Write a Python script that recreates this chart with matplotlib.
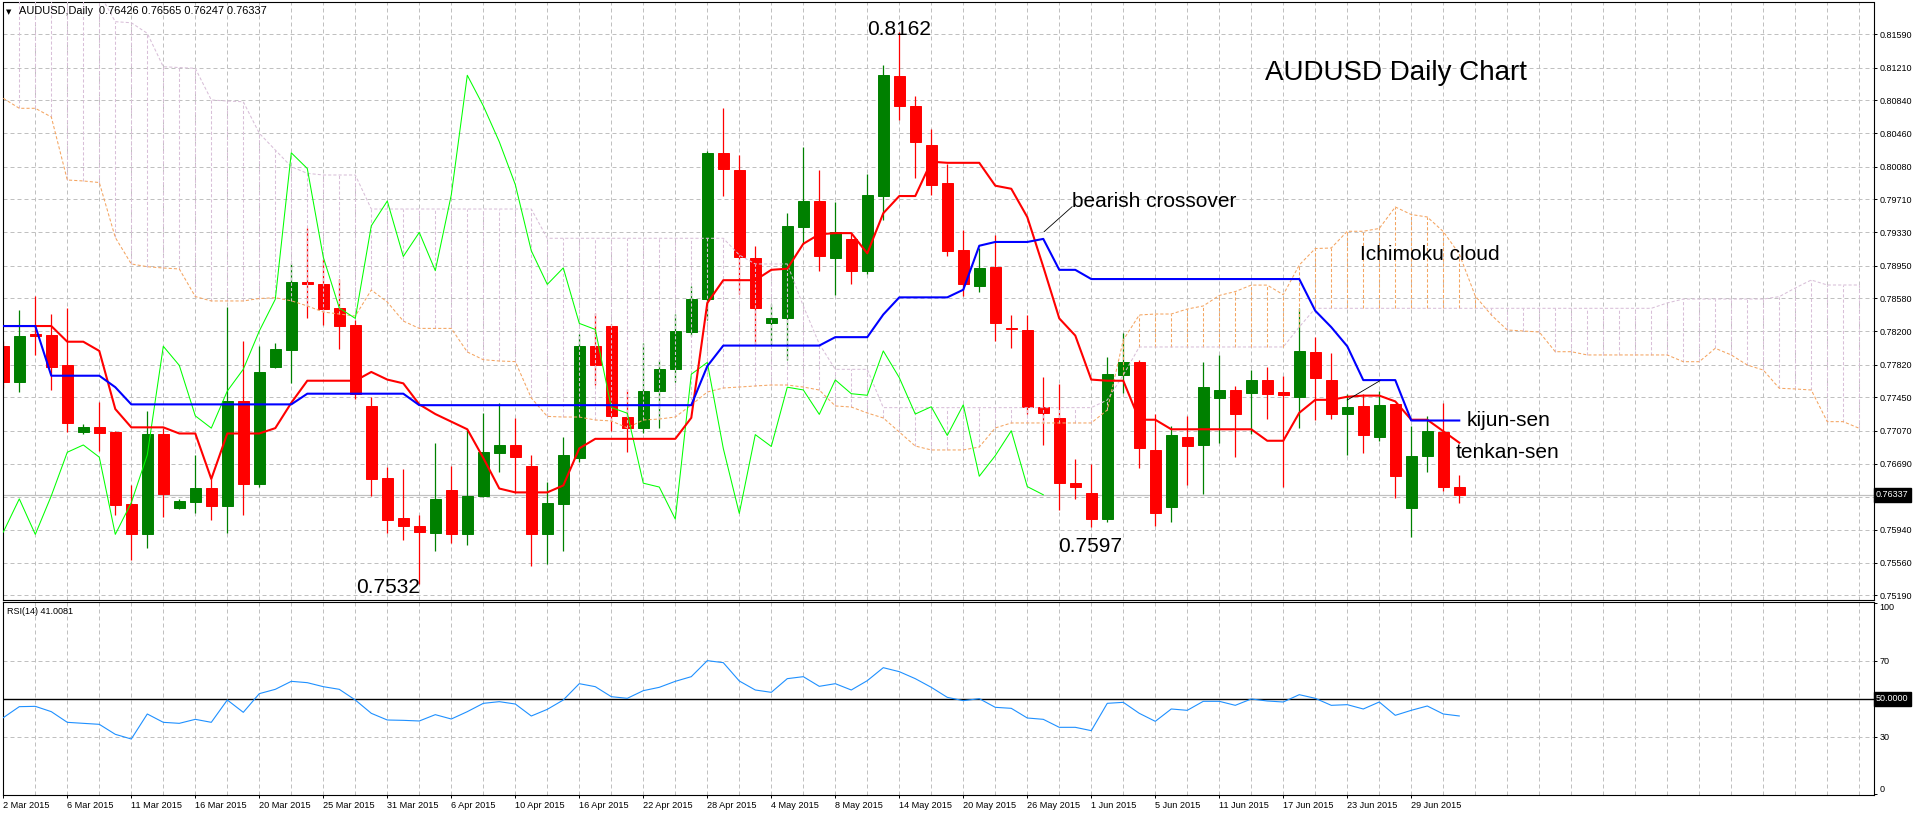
import numpy as np
import matplotlib
matplotlib.use("Agg")
import matplotlib.pyplot as plt
from matplotlib.transforms import blended_transform_factory

plt.rcParams["font.family"] = ["Liberation Sans", "DejaVu Sans"]

# ---------------------------------------------------------------- data
date_labels = ["2 Mar 2015", "6 Mar 2015", "11 Mar 2015", "16 Mar 2015", "20 Mar 2015",
               "25 Mar 2015", "31 Mar 2015", "6 Apr 2015", "10 Apr 2015", "16 Apr 2015",
               "22 Apr 2015", "28 Apr 2015", "4 May 2015", "8 May 2015", "14 May 2015",
               "20 May 2015", "26 May 2015", "1 Jun 2015", "5 Jun 2015", "11 Jun 2015",
               "17 Jun 2015", "23 Jun 2015", "29 Jun 2015"]

opens = [0.78031, 0.77629, 0.78170, 0.78162, 0.77813, 0.77058, 0.77110, 0.77049, 0.76233, 0.75885,
         0.77027, 0.76181, 0.76255, 0.76417, 0.76212, 0.77411, 0.76465, 0.77795, 0.77987, 0.78759,
         0.78742, 0.78467, 0.78275, 0.77346, 0.76526, 0.76068, 0.75985, 0.75906, 0.76395, 0.75885,
         0.76321, 0.76809, 0.76905, 0.76661, 0.75885, 0.76233, 0.76757, 0.78031, 0.78262, 0.77224,
         0.77097, 0.77520, 0.77769, 0.78196, 0.78567, 0.80238, 0.80037, 0.79034, 0.78292, 0.78349,
         0.79396, 0.79688, 0.79043, 0.79256, 0.78886, 0.79745, 0.81115, 0.80770, 0.80325, 0.79889,
         0.79130, 0.78724, 0.78938, 0.78240, 0.78214, 0.77341, 0.77211, 0.76469, 0.76356, 0.76059,
         0.77708, 0.77856, 0.76844, 0.76199, 0.76997, 0.76901, 0.77446, 0.77533, 0.77498, 0.77647,
         0.77507, 0.77455, 0.77970, 0.77647, 0.77254, 0.77350, 0.76997, 0.77368, 0.76190, 0.76774,
         0.77054, 0.76426]
highs = [0.78087, 0.78445, 0.78606, 0.78401, 0.78462, 0.77141, 0.77398, 0.77062, 0.76443, 0.77289,
         0.77097, 0.76286, 0.76792, 0.76517, 0.78480, 0.78087, 0.78031, 0.78074, 0.78982, 0.79383,
         0.79025, 0.78798, 0.78336, 0.77455, 0.76648, 0.76635, 0.76111, 0.76931, 0.76670, 0.77071,
         0.77272, 0.77381, 0.77215, 0.76787, 0.76486, 0.76992, 0.78175, 0.78414, 0.78284, 0.77542,
         0.78074, 0.77878, 0.78401, 0.78720, 0.80264, 0.80748, 0.80212, 0.79178, 0.78515, 0.79549,
         0.80308, 0.80037, 0.79679, 0.79322, 0.79994, 0.81241, 0.81620, 0.80888, 0.80508, 0.80107,
         0.79352, 0.79147, 0.79296, 0.78388, 0.78388, 0.77682, 0.77603, 0.76748, 0.76687, 0.77904,
         0.78188, 0.77878, 0.77258, 0.77119, 0.77237, 0.77856, 0.77926, 0.77577, 0.77764, 0.77795,
         0.77695, 0.78467, 0.78140, 0.77956, 0.77490, 0.77481, 0.77520, 0.77377, 0.77119, 0.77237,
         0.77389, 0.76565]
lows = [0.77551, 0.77507, 0.77935, 0.77533, 0.77049, 0.77027, 0.76831, 0.76103, 0.75597, 0.75728,
        0.76085, 0.76172, 0.76124, 0.76046, 0.75898, 0.76103, 0.76430, 0.77786, 0.77616, 0.78358,
        0.78275, 0.77996, 0.77433, 0.76321, 0.75902, 0.75819, 0.75320, 0.75701, 0.75788, 0.75762,
        0.76312, 0.76591, 0.76356, 0.75527, 0.75549, 0.75701, 0.76713, 0.77586, 0.77062, 0.76822,
        0.77040, 0.77093, 0.77629, 0.78153, 0.78327, 0.79745, 0.78633, 0.78044, 0.78044, 0.77869,
        0.79200, 0.78894, 0.78620, 0.78742, 0.78851, 0.79470, 0.80617, 0.79954, 0.79758, 0.79056,
        0.78602, 0.78646, 0.78096, 0.78013, 0.77258, 0.76901, 0.76168, 0.76286, 0.75970, 0.76024,
        0.77498, 0.76639, 0.75981, 0.76024, 0.76452, 0.76351, 0.76923, 0.76770, 0.77032, 0.77206,
        0.76425, 0.77093, 0.77193, 0.77202, 0.76787, 0.76818, 0.76953, 0.76299, 0.75850, 0.76591,
        0.76377, 0.76247]
closes = [0.77629, 0.78148, 0.78153, 0.77795, 0.77150, 0.77115, 0.77040, 0.76225, 0.75885, 0.77027,
          0.76343, 0.76268, 0.76417, 0.76212, 0.77411, 0.76465, 0.77738, 0.77996, 0.78763, 0.78742,
          0.78458, 0.78262, 0.77490, 0.76517, 0.76050, 0.75981, 0.75911, 0.76290, 0.75885, 0.76325,
          0.76822, 0.76905, 0.76766, 0.75885, 0.76247, 0.76792, 0.78031, 0.77813, 0.77237, 0.77097,
          0.77520, 0.77769, 0.78205, 0.78567, 0.80238, 0.80059, 0.79047, 0.78467, 0.78349, 0.79405,
          0.79688, 0.79056, 0.79330, 0.78894, 0.79758, 0.81123, 0.80774, 0.80364, 0.79876, 0.79121,
          0.78737, 0.78925, 0.78292, 0.78223, 0.77333, 0.77267, 0.76469, 0.76425, 0.76059, 0.77712,
          0.77847, 0.76866, 0.76124, 0.77023, 0.76888, 0.77564, 0.77533, 0.77254, 0.77647, 0.77490,
          0.77472, 0.77978, 0.77673, 0.77258, 0.77341, 0.77014, 0.77363, 0.76548, 0.76783, 0.77067,
          0.76430, 0.76337]

tenkan = [0.78262, 0.78262, 0.78262, 0.78262, 0.78083, 0.78083, 0.77978, 0.77315, 0.77106, 0.77106,
          0.77106, 0.77036, 0.77036, 0.76517, 0.77036, 0.77036, 0.77036, 0.77097, 0.77386, 0.77638,
          0.77638, 0.77638, 0.77638, 0.77738, 0.77651, 0.77608, 0.77368, 0.77258, 0.77171, 0.77084,
          0.76757, 0.76408, 0.76364, 0.76364, 0.76364, 0.76443, 0.76866, 0.76975, 0.76975, 0.76975,
          0.76975, 0.76975, 0.76975, 0.77215, 0.78524, 0.78785, 0.78785, 0.78785, 0.78903, 0.78916,
          0.79200, 0.79309, 0.79322, 0.79322, 0.79091, 0.79549, 0.79745, 0.79745, 0.80137, 0.80124,
          0.80124, 0.80124, 0.79863, 0.79828, 0.79505, 0.78938, 0.78349, 0.78153, 0.77651, 0.77638,
          0.77638, 0.77193, 0.77193, 0.77084, 0.77084, 0.77084, 0.77084, 0.77084, 0.77084, 0.76953,
          0.76953, 0.77272, 0.77420, 0.77420, 0.77455, 0.77468, 0.77468, 0.77402, 0.77193, 0.77193,
          0.77062, 0.76931]
kijun = [0.78262, 0.78262, 0.78262, 0.77695, 0.77695, 0.77695, 0.77695, 0.77564, 0.77368, 0.77368,
         0.77368, 0.77368, 0.77368, 0.77368, 0.77368, 0.77368, 0.77368, 0.77368, 0.77368, 0.77490,
         0.77490, 0.77490, 0.77490, 0.77490, 0.77490, 0.77490, 0.77359, 0.77359, 0.77359, 0.77359,
         0.77359, 0.77359, 0.77359, 0.77359, 0.77359, 0.77359, 0.77359, 0.77359, 0.77359, 0.77359,
         0.77359, 0.77359, 0.77359, 0.77359, 0.77804, 0.78039, 0.78039, 0.78039, 0.78039, 0.78039,
         0.78039, 0.78039, 0.78135, 0.78135, 0.78135, 0.78393, 0.78589, 0.78589, 0.78589, 0.78589,
         0.78676, 0.79178, 0.79221, 0.79221, 0.79221, 0.79256, 0.78903, 0.78903, 0.78798, 0.78798,
         0.78798, 0.78798, 0.78798, 0.78798, 0.78798, 0.78798, 0.78798, 0.78798, 0.78798, 0.78798,
         0.78798, 0.78798, 0.78436, 0.78249, 0.78031, 0.77645, 0.77645, 0.77645, 0.77184, 0.77184,
         0.77184, 0.77184]

# cloud spans, already shifted 26 bars forward (bars 0..116)
senkou_a = [0.80860, 0.80746, 0.80746, 0.80647, 0.79928, 0.79917, 0.79899, 0.79272, 0.78970, 0.78939,
            0.78924, 0.78913, 0.78598, 0.78548, 0.78548, 0.78548, 0.78576, 0.78585, 0.78550, 0.78491,
            0.78422, 0.78399, 0.78376, 0.78673, 0.78536, 0.78319, 0.78235, 0.78235, 0.78235, 0.77966,
            0.77878, 0.77863, 0.77856, 0.77441, 0.77231, 0.77224, 0.77224, 0.77190, 0.77179, 0.77100,
            0.77190, 0.77201, 0.77224, 0.77361, 0.77509, 0.77555, 0.77566, 0.77578, 0.77589, 0.77589,
            0.77566, 0.77532, 0.77350, 0.77338, 0.77270, 0.77213, 0.77053, 0.76893, 0.76848, 0.76848,
            0.76848, 0.76882, 0.77099, 0.77156, 0.77156, 0.77156, 0.77156, 0.77156, 0.77156, 0.77304,
            0.78103, 0.78388, 0.78399, 0.78399, 0.78456, 0.78491, 0.78611, 0.78655, 0.78729, 0.78729,
            0.78619, 0.78958, 0.79146, 0.79152, 0.79343, 0.79343, 0.79375, 0.79620, 0.79534, 0.79506,
            0.79340, 0.79084, 0.78605, 0.78388, 0.78217, 0.78205, 0.78194, 0.77969, 0.77969, 0.77932,
            0.77932, 0.77932, 0.77932, 0.77932, 0.77932, 0.77855, 0.77855, 0.78008, 0.77932, 0.77817,
            0.77760, 0.77552, 0.77544, 0.77532, 0.77171, 0.77171, 0.77095]
senkou_b = [0.82400, 0.82400, 0.82400, 0.82320, 0.82320, 0.82180, 0.82060, 0.81734, 0.81722, 0.81601,
            0.81220, 0.81211, 0.81202, 0.80841, 0.80829, 0.80821, 0.80461, 0.80270, 0.80080, 0.80004,
            0.79985, 0.79985, 0.79985, 0.79597, 0.79597, 0.79597, 0.79597, 0.79597, 0.79597, 0.79597,
            0.79597, 0.79597, 0.79597, 0.79597, 0.79263, 0.79263, 0.79263, 0.79263, 0.79263, 0.79263,
            0.79263, 0.79263, 0.79263, 0.79263, 0.79263, 0.79263, 0.79072, 0.78970, 0.78970, 0.78970,
            0.78491, 0.78057, 0.77768, 0.77768, 0.77768, 0.77331, 0.77331, 0.77331, 0.77331, 0.77331,
            0.77331, 0.77331, 0.77331, 0.77331, 0.77331, 0.77331, 0.77331, 0.77331, 0.77331, 0.77418,
            0.77703, 0.78023, 0.78023, 0.78023, 0.78023, 0.78023, 0.78023, 0.78023, 0.78023, 0.78023,
            0.78023, 0.78251, 0.78464, 0.78464, 0.78464, 0.78464, 0.78464, 0.78464, 0.78464, 0.78464,
            0.78464, 0.78464, 0.78464, 0.78464, 0.78464, 0.78464, 0.78464, 0.78464, 0.78464, 0.78464,
            0.78464, 0.78464, 0.78464, 0.78464, 0.78525, 0.78570, 0.78570, 0.78570, 0.78570, 0.78570,
            0.78570, 0.78597, 0.78696, 0.78787, 0.78730, 0.78730, 0.78730]

rsi = [40.12, 45.89, 46.06, 43.27, 37.68, 37.15, 36.63, 31.39, 28.94, 42.05,
       37.68, 37.15, 39.25, 37.68, 49.39, 42.92, 52.71, 54.98, 59.17, 58.47,
       56.37, 54.98, 49.39, 42.40, 38.90, 38.72, 38.38, 41.70, 39.42, 43.27,
       47.63, 48.51, 47.28, 40.99, 44.48, 49.39, 57.94, 56.37, 51.13, 50.26,
       54.28, 56.03, 59.17, 61.62, 70.01, 68.96, 59.35, 54.63, 53.40, 60.57,
       61.62, 56.55, 57.94, 54.63, 59.52, 66.33, 64.24, 60.57, 56.03, 50.78,
       49.03, 50.08, 45.54, 45.02, 39.95, 39.25, 35.06, 35.06, 33.31, 47.64,
       48.16, 42.40, 38.20, 44.67, 43.97, 48.69, 48.69, 46.59, 49.91, 48.86,
       48.34, 52.18, 50.26, 46.59, 46.94, 44.67, 48.34, 41.35, 43.97, 46.24,
       42.05, 41.0081]

price_ticks = [0.81590, 0.81210, 0.80840, 0.80460, 0.80080, 0.79710, 0.79330, 0.78950, 0.78580,
               0.78200, 0.77820, 0.77450, 0.77070, 0.76690, 0.75940, 0.75560, 0.75190]
hidden_grid = [0.76310]
bid = 0.76337
rsi_ticks = [0, 30, 70, 100]

# ---------------------------------------------------------------- style
GREEN = "#008000"
RED = "#ff0000"
BLUE = "#0000ff"
LIME = "#00ff00"
SANDY = "#f4a460"
THISTLE = "#d8bfd8"
GRID = "#c0c0c0"
RSI_BLUE = "#1e90ff"
DASH = (0, (4, 3))
DOT = (0, (3, 2))

W, H = 1916, 813
fig = plt.figure(figsize=(W / 100, H / 100), dpi=100)
fig.patch.set_facecolor("white")


def box(left, top, right, bottom):
    return [left / W, 1 - bottom / H, (right - left) / W, (bottom - top) / H]


ax = fig.add_axes(box(2.5, 2.5, 1873.5, 599.5))
rsi_ax = fig.add_axes(box(2.5, 602, 1873.5, 795))

XMIN, XMAX = -0.05, 116.89
n_cloud = len(senkou_a)

# ── main panel ───────────────────────────────────────────────────────
o = np.array(opens)
h = np.array(highs)
l = np.array(lows)
c = np.array(closes)
x = np.arange(len(o))
col = np.where(c >= o, GREEN, RED)

for p in price_ticks + hidden_grid:
    ax.axhline(p, color=GRID, lw=0.72, ls=DASH, zorder=0.5)
for i in range(2, n_cloud, 2):
    ax.axvline(i, color=GRID, lw=0.72, ls=DASH, zorder=0.5)
ax.axhline(bid, color=GRID, lw=0.9, zorder=0.6)

ax.vlines(x, l, h, colors=col, lw=0.9, zorder=2)
ax.bar(x, np.abs(c - o), bottom=np.minimum(o, c), width=0.68, color=col,
       edgecolor=col, linewidth=0.7, zorder=2)

a = np.array(senkou_a)
b = np.array(senkou_b)
xc = np.arange(n_cloud)
ax.vlines(xc[1:], np.minimum(a, b)[1:], np.maximum(a, b)[1:],
          colors=np.where(a > b, SANDY, THISTLE)[1:],
          lw=0.75, linestyles=[DOT], zorder=3)
ax.plot(xc, a, color=SANDY, lw=0.75, ls=DOT, zorder=3)
ax.plot(xc, b, color=THISTLE, lw=0.75, ls=DOT, zorder=3)

# chikou span = closes drawn 26 bars back
ax.plot(x[:len(c) - 26], c[26:], color=LIME, lw=0.75, zorder=4)
ax.plot(x, tenkan, color=RED, lw=1.5, zorder=5)
ax.plot(x, kijun, color=BLUE, lw=1.5, zorder=5)

ax.set_xlim(XMIN, XMAX)
ax.set_ylim(0.75142, 0.81953)
ax.set_xticks([])
ax.yaxis.tick_right()
ax.set_yticks(price_ticks)
ax.set_yticklabels([f"{p:.5f}" for p in price_ticks])
ax.tick_params(axis="y", length=2.5, width=0.7, pad=2, labelsize=6.5, direction="out")
for s in ax.spines.values():
    s.set_color("black")
    s.set_linewidth(0.8)

trans = blended_transform_factory(ax.transAxes, ax.transData)
ax.text(1.0014, bid, f"{bid:.5f}", transform=trans, color="white", fontsize=6.5,
        va="center", ha="left",
        bbox=dict(boxstyle="square,pad=0.25", fc="black", ec="black"))

# annotations
ann = dict(fontsize=15, color="black", va="baseline", zorder=6)
ax.text(56.0, 0.81582, "0.8162", ha="center", **ann)
ax.text(26.02, 0.75213, "0.7532", ha="right", **ann)
ax.text(67.95, 0.75681, "0.7597", ha="center", **ann)
ax.text(78.86, 0.81069, "AUDUSD Daily Chart", ha="left", fontsize=20, va="baseline")
ax.text(66.78, 0.79623, "bearish crossover", ha="left", **ann)
ax.text(84.77, 0.79015, "Ichimoku cloud", ha="left", **ann)
ax.text(91.48, 0.77122, "kijun-sen", ha="left", **ann)
ax.text(90.77, 0.76753, "tenkan-sen", ha="left", **ann)
ax.plot([65.05, 66.8], [0.79338, 0.79623], color="black", lw=0.6, zorder=6)
ax.plot([84.0, 86.04], [0.77418, 0.77638], color="black", lw=0.6, zorder=6)

fig.text(6 / W, 1 - 14 / H, "\u25bc", fontsize=5, family="DejaVu Sans", va="baseline")
fig.text(19 / W, 1 - 14.5 / H, "AUDUSD,Daily  0.76426 0.76565 0.76247 0.76337",
         fontsize=7.9, va="baseline")

# ── RSI panel ────────────────────────────────────────────────────────
for v in (30, 70):
    rsi_ax.axhline(v, color=GRID, lw=0.72, ls=DASH, zorder=0.5)
for i in range(2, n_cloud, 2):
    rsi_ax.axvline(i, color=GRID, lw=0.72, ls=DASH, zorder=0.5)
rsi_ax.axhline(50, color="black", lw=1.0, zorder=1)
rsi_ax.plot(np.arange(len(rsi)), rsi, color=RSI_BLUE, lw=0.8, zorder=3)

rsi_ax.set_xlim(XMIN, XMAX)
rsi_ax.set_ylim(-0.42, 100.76)
rsi_ax.set_xticks(np.arange(len(date_labels)) * 4)
rsi_ax.set_xticklabels(date_labels)
for lbl in rsi_ax.get_xticklabels():
    lbl.set_ha("left")
rsi_ax.tick_params(axis="x", length=2.5, width=0.7, pad=1.5, labelsize=6.6)
rsi_ax.yaxis.tick_right()
rsi_ax.set_yticks(rsi_ticks)
rsi_ax.set_yticklabels([str(v) for v in rsi_ticks])
rsi_ax.tick_params(axis="y", length=2.5, width=0.7, pad=2, labelsize=6.5)
ylbls = rsi_ax.get_yticklabels()
ylbls[0].set_va("bottom")
ylbls[-1].set_va("top")
for s in rsi_ax.spines.values():
    s.set_color("black")
    s.set_linewidth(0.8)

rtrans = blended_transform_factory(rsi_ax.transAxes, rsi_ax.transData)
rsi_ax.text(1.0014, 50, "50.0000", transform=rtrans, color="white", fontsize=6.5,
            va="center", ha="left",
            bbox=dict(boxstyle="square,pad=0.25", fc="black", ec="black"))
fig.text(7 / W, 1 - 614.5 / H, f"RSI(14) {rsi[-1]:.4f}", fontsize=6.5, va="baseline")

fig.savefig("out.png", dpi=100, facecolor="white")
